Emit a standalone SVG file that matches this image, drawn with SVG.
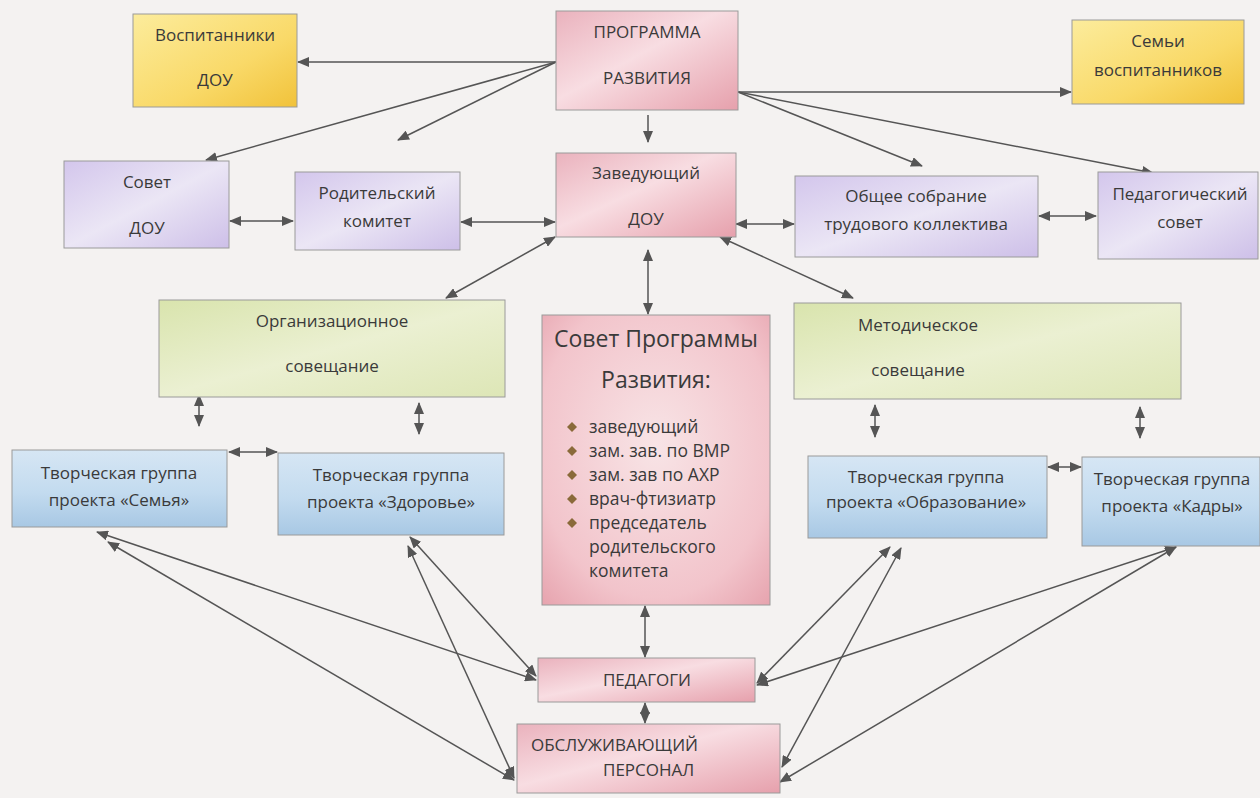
<svg xmlns="http://www.w3.org/2000/svg" width="1260" height="798" viewBox="0 0 1260 798">
<style>
.t{font-family:"Open Sans","Noto Sans","Liberation Sans",sans-serif;font-size:17px;fill:#3a3a3a;text-anchor:middle}
.big{font-size:23px}
.l{text-anchor:start}
.bl{font-size:17.5px}
.box{stroke:#9a9a9a;stroke-width:1}
.c{stroke:#555;stroke-width:1.5;fill:none}
.a1{marker-end:url(#ah)}
.a2{marker-start:url(#ah);marker-end:url(#ah)}
</style>
<defs>
<marker id="ah" viewBox="0 0 12 10" refX="11" refY="5" markerWidth="12" markerHeight="10" markerUnits="userSpaceOnUse" orient="auto-start-reverse">
<path d="M0,0 L12,5 L0,10 z" fill="#555"/>
</marker>
<linearGradient id="gy" x1="0" y1="0" x2="1" y2="1">
<stop offset="0" stop-color="#fcec9c"/><stop offset="0.6" stop-color="#f9d968"/><stop offset="1" stop-color="#f1c23a"/>
</linearGradient>
<linearGradient id="gp" x1="0" y1="0" x2="1" y2="1">
<stop offset="0" stop-color="#eab2bd"/><stop offset="0.45" stop-color="#f8dde2"/><stop offset="1" stop-color="#e6a0ac"/>
</linearGradient>
<linearGradient id="gv" x1="0" y1="0" x2="1" y2="1">
<stop offset="0" stop-color="#d3c6ec"/><stop offset="0.5" stop-color="#ebe6f5"/><stop offset="1" stop-color="#cdbfe8"/>
</linearGradient>
<linearGradient id="gg" x1="0" y1="0" x2="1" y2="1">
<stop offset="0" stop-color="#d9e4ad"/><stop offset="0.5" stop-color="#ebf0d2"/><stop offset="1" stop-color="#dde6b6"/>
</linearGradient>
<linearGradient id="gb" x1="0" y1="0" x2="0" y2="1">
<stop offset="0" stop-color="#d6e6f4"/><stop offset="0.55" stop-color="#c3dbef"/><stop offset="1" stop-color="#a8c8e4"/>
</linearGradient>
<radialGradient id="gs" cx="0.5" cy="0.45" r="0.75">
<stop offset="0" stop-color="#f8e4e6"/><stop offset="0.7" stop-color="#f2c4cb"/><stop offset="1" stop-color="#e6a2ad"/>
</radialGradient>
<path id="bul" d="M-5,0 L0,-5 L5,0 L0,5 z"/>
</defs>
<rect width="1260" height="798" fill="#f4f2f1"/>

<g id="connectors">
<line class="c a1" x1="556" y1="62" x2="298" y2="62"/>
<line class="c a1" x1="556" y1="62" x2="206" y2="160"/>
<line class="c a1" x1="556" y1="62" x2="398" y2="140"/>
<line class="c a1" x1="738" y1="92" x2="1071" y2="92"/>
<line class="c a1" x1="738" y1="92" x2="922" y2="166"/>
<line class="c a1" x1="738" y1="92" x2="1153" y2="173"/>
<line class="c a1" x1="648" y1="115" x2="648" y2="142"/>
<line class="c a2" x1="230" y1="221" x2="293" y2="221"/>
<line class="c a2" x1="461" y1="222" x2="555" y2="222"/>
<line class="c a2" x1="736" y1="224" x2="794" y2="224"/>
<line class="c a2" x1="1039" y1="216" x2="1096" y2="216"/>
<line class="c a2" x1="555" y1="237" x2="446" y2="298"/>
<line class="c a2" x1="720" y1="237" x2="853" y2="298"/>
<line class="c a2" x1="648" y1="250" x2="648" y2="314"/>
<line class="c a2" x1="199" y1="395" x2="199" y2="426"/>
<line class="c a2" x1="419" y1="403" x2="419" y2="434"/>
<line class="c a2" x1="229" y1="452" x2="277" y2="452"/>
<line class="c a2" x1="875" y1="405" x2="875" y2="437"/>
<line class="c a2" x1="1140" y1="407" x2="1140" y2="438"/>
<line class="c a2" x1="1048" y1="467" x2="1081" y2="467"/>
<line class="c a2" x1="645" y1="606" x2="645" y2="657"/>
<line class="c a2" x1="645" y1="703" x2="645" y2="723"/>
<line class="c a2" x1="97" y1="532" x2="536" y2="680"/>
<line class="c a2" x1="108" y1="542" x2="514" y2="780"/>
<line class="c a2" x1="410" y1="537" x2="536" y2="676"/>
<line class="c a2" x1="408" y1="546" x2="514" y2="778"/>
<line class="c a2" x1="890" y1="547" x2="757" y2="683"/>
<line class="c a2" x1="901" y1="548" x2="782" y2="767"/>
<line class="c a2" x1="1176" y1="547" x2="757" y2="685"/>
<line class="c a2" x1="1176" y1="547" x2="780" y2="782"/>
</g>

<g id="vospitanniki">
<rect class="box" x="133" y="14" width="164" height="93" fill="url(#gy)"/>
<text class="t" x="215" y="41">Воспитанники</text>
<text class="t" x="215" y="86">ДОУ</text>
</g>
<g id="programma">
<rect class="box" x="556" y="11" width="182" height="99" fill="url(#gp)"/>
<text class="t" x="647" y="38">ПРОГРАММА</text>
<text class="t" x="647" y="84">РАЗВИТИЯ</text>
</g>
<g id="semi">
<rect class="box" x="1072" y="20" width="172" height="84" fill="url(#gy)"/>
<text class="t" x="1158" y="47">Семьи</text>
<text class="t" x="1158" y="76">воспитанников</text>
</g>
<g id="sovet-dou">
<rect class="box" x="64" y="161" width="165" height="87" fill="url(#gv)"/>
<text class="t" x="147" y="188">Совет</text>
<text class="t" x="147" y="234">ДОУ</text>
</g>
<g id="roditelsky">
<rect class="box" x="295" y="172" width="165" height="78" fill="url(#gv)"/>
<text class="t" x="377" y="199">Родительский</text>
<text class="t" x="377" y="227">комитет</text>
</g>
<g id="zaveduyushchy">
<rect class="box" x="556" y="153" width="180" height="84" fill="url(#gp)"/>
<text class="t" x="646" y="179">Заведующий</text>
<text class="t" x="646" y="225">ДОУ</text>
</g>
<g id="obshchee">
<rect class="box" x="795" y="176" width="243" height="81" fill="url(#gv)"/>
<text class="t" x="916" y="202">Общее собрание</text>
<text class="t" x="916" y="230">трудового коллектива</text>
</g>
<g id="pedsovet">
<rect class="box" x="1098" y="172" width="160" height="87" fill="url(#gv)"/>
<text class="t" x="1180" y="200">Педагогический</text>
<text class="t" x="1180" y="228">совет</text>
</g>
<g id="org">
<rect class="box" x="159" y="300" width="346" height="97" fill="url(#gg)"/>
<text class="t" x="332" y="327">Организационное</text>
<text class="t" x="332" y="372">совещание</text>
</g>
<g id="sovet-programmy">
<rect class="box" x="542" y="315" width="228" height="290" fill="url(#gs)"/>
<text class="t big" x="656" y="347">Совет Программы</text>
<text class="t big" x="656" y="388">Развития:</text>
<g fill="#8a6a3a">
<use href="#bul" x="572" y="427"/>
<use href="#bul" x="572" y="451"/>
<use href="#bul" x="572" y="475"/>
<use href="#bul" x="572" y="499"/>
<use href="#bul" x="572" y="523"/>
</g>
<text class="t l bl" x="589" y="433">заведующий</text>
<text class="t l bl" x="589" y="457">зам. зав. по ВМР</text>
<text class="t l bl" x="589" y="481">зам. зав по АХР</text>
<text class="t l bl" x="589" y="505">врач-фтизиатр</text>
<text class="t l bl" x="589" y="529">председатель</text>
<text class="t l bl" x="589" y="553">родительского</text>
<text class="t l bl" x="589" y="577">комитета</text>
</g>
<g id="metod">
<rect class="box" x="794" y="303" width="387" height="96" fill="url(#gg)"/>
<text class="t" x="918" y="331">Методическое</text>
<text class="t" x="918" y="376">совещание</text>
</g>
<g id="tg-semya">
<rect class="box" x="12" y="450" width="215" height="77" fill="url(#gb)"/>
<text class="t" x="119" y="479">Творческая группа</text>
<text class="t" x="119" y="506">проекта «Семья»</text>
</g>
<g id="tg-zdorovie">
<rect class="box" x="278" y="453" width="226" height="82" fill="url(#gb)"/>
<text class="t" x="391" y="481">Творческая группа</text>
<text class="t" x="391" y="508">проекта «Здоровье»</text>
</g>
<g id="tg-obrazovanie">
<rect class="box" x="808" y="456" width="239" height="82" fill="url(#gb)"/>
<text class="t" x="926" y="483">Творческая группа</text>
<text class="t" x="926" y="508">проекта «Образование»</text>
</g>
<g id="tg-kadry">
<rect class="box" x="1082" y="457" width="178" height="89" fill="url(#gb)"/>
<text class="t" x="1172" y="485">Творческая группа</text>
<text class="t" x="1172" y="512">проекта «Кадры»</text>
</g>
<g id="pedagogi">
<rect class="box" x="538" y="658" width="217" height="44" fill="url(#gp)"/>
<text class="t" x="647" y="686">ПЕДАГОГИ</text>
</g>
<g id="obsluzhivayushchy">
<rect class="box" x="517" y="724" width="263" height="69" fill="url(#gp)"/>
<text class="t l" x="531" y="751">ОБСЛУЖИВАЮЩИЙ</text>
<text class="t l" x="603" y="776">ПЕРСОНАЛ</text>
</g>
</svg>
